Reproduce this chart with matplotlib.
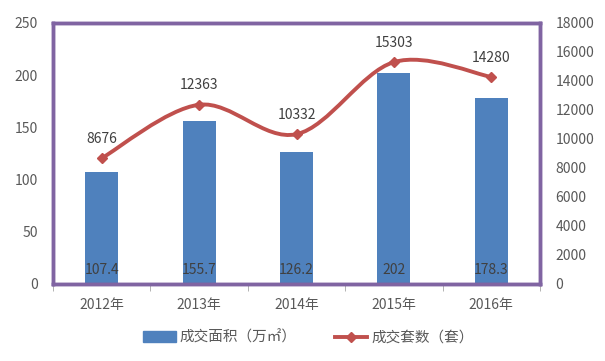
import matplotlib.pyplot as plt
import numpy as np
from matplotlib.path import Path
from matplotlib.patches import PathPatch
from matplotlib.lines import Line2D
from matplotlib.patches import Patch

plt.rcParams['font.family'] = ['Noto Sans CJK SC', 'DejaVu Sans']

years = ['2012年', '2013年', '2014年', '2015年', '2016年']
area = [107.4, 155.7, 126.2, 202, 178.3]
units = [8676, 12363, 10332, 15303, 14280]

bar_color = '#4F81BD'
line_color = '#C0504D'
text_color = '#595959'
border = '#8064A2'

fig = plt.figure(figsize=(6.05, 3.61), dpi=100)
ax = fig.add_axes([0.0876, 0.2133, 0.8050, 0.7230])
ax2 = ax.twinx()

x = np.arange(len(years))
ax.bar(x, area, width=0.34, color=bar_color, zorder=2)
for xi, v in zip(x, area):
    ax.text(xi, 13, f'{v:g}', ha='center', va='center', fontsize=10, color='#404040')

ax.set_xlim(-0.5, len(years) - 0.5)
ax.set_ylim(0, 250)
ax.set_yticks(range(0, 251, 50))
ax.set_xticks(x)
ax.set_xticklabels(years)
ax.set_xticks(np.arange(-0.5, len(years)), minor=True)
ax.tick_params(axis='x', which='major', length=0, pad=10, labelsize=10, labelcolor=text_color)
ax.tick_params(axis='x', which='minor', length=5, color='#A6A6A6', direction='out')
ax.tick_params(axis='y', length=0, pad=11, labelsize=10, labelcolor=text_color)

# smoothed line (Excel-like bezier through the data points)
pts = np.column_stack([x, units]).astype(float)
t = 1 / 6
verts = [pts[0]]
codes = [Path.MOVETO]
for i in range(len(pts) - 1):
    p0 = pts[i - 1] if i > 0 else pts[i]
    p1 = pts[i]
    p2 = pts[i + 1]
    p3 = pts[i + 2] if i + 2 < len(pts) else pts[i + 1]
    c1 = p1 + (p2 - p0) * t
    c2 = p2 - (p3 - p1) * t
    verts += [c1, c2, p2]
    codes += [Path.CURVE4] * 3
ax2.add_patch(PathPatch(Path(verts, codes), facecolor='none', edgecolor=line_color, lw=2.8, zorder=3))
ax2.plot(x, units, ls='none', marker='D', ms=5, color=line_color, zorder=4)
for xi, v in zip(x, units):
    ax2.text(xi, v + 850, str(v), ha='center', va='bottom', fontsize=10, color='#404040')

ax2.set_ylim(0, 18000)
ax2.set_yticks(range(0, 18001, 2000))
ax2.tick_params(axis='y', length=0, pad=11, labelsize=10, labelcolor=text_color)

for a in (ax, ax2):
    for s in a.spines.values():
        s.set_color(border)
        s.set_linewidth(2.5)

handles = [Patch(color=bar_color), Line2D([], [], color=line_color, lw=2.8, marker='D', ms=5)]
fig.legend(handles, ['成交面积（万㎡）', '成交套数（套）'], loc='center', bbox_to_anchor=(0.51, 0.065),
           ncol=2, frameon=False, fontsize=10.5, labelcolor=text_color, handlelength=2.2, columnspacing=2.6,
           handletextpad=0.3)

fig.savefig('out.png', dpi=100)
